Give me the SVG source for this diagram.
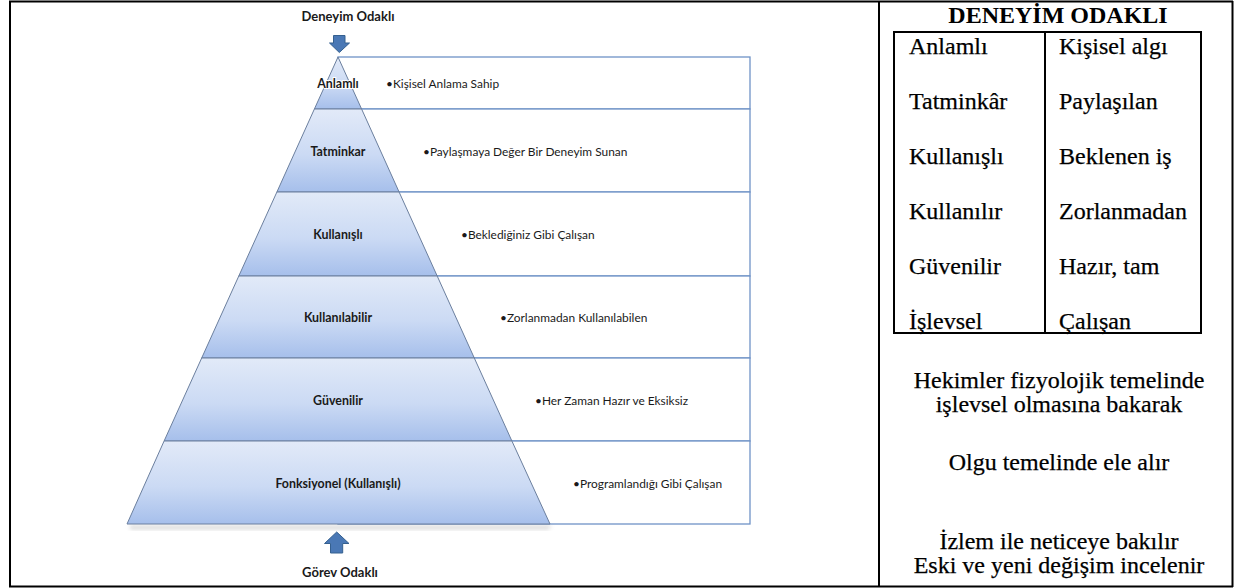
<svg xmlns="http://www.w3.org/2000/svg" width="1234" height="588" viewBox="0 0 1234 588">
<style>
.frame{stroke:#000;stroke-width:2;fill:none}
.box{fill:#fff;stroke:#6f93c7;stroke-width:1.3}
.band{stroke:#6b7f9e;stroke-width:1}
.plab{font-family:Lato,"Open Sans",sans-serif;font-weight:bold;font-size:12.4px;fill:#1a1a1a;text-anchor:middle}
.blt{font-family:Lato,"Open Sans",sans-serif;font-size:11.9px;fill:#1a1a1a}
.cap{font-family:Lato,"Open Sans",sans-serif;font-weight:bold;font-size:13px;fill:#1a1a1a;text-anchor:middle}
.arrow{fill:#4a78b5;stroke:#35608f;stroke-width:1}
.tt{font-family:"Liberation Serif","Times New Roman",serif;font-size:24px;fill:#000;stroke:#000;stroke-width:0.25}
.tc{font-family:"Liberation Serif","Times New Roman",serif;font-size:24px;fill:#000;text-anchor:middle;stroke:#000;stroke-width:0.25}
.th{font-family:"Liberation Serif","Times New Roman",serif;font-weight:bold;font-size:24px;fill:#000;text-anchor:middle}
</style>
<defs>
<linearGradient id="g" x1="0" y1="0" x2="0" y2="1">
<stop offset="0" stop-color="#e2eaf8"/>
<stop offset="0.55" stop-color="#cbdaf4"/>
<stop offset="1" stop-color="#a6bfeb"/>
</linearGradient>
<filter id="sh" x="-10%" y="-50%" width="120%" height="200%">
<feGaussianBlur stdDeviation="2"/>
</filter>
</defs>
<rect width="1234" height="588" fill="#fff"/>

<g id="frame">
<line class="frame" x1="9" y1="1.5" x2="1233" y2="1.5"/>
<line class="frame" x1="10" y1="1" x2="10" y2="587"/>
<line class="frame" x1="9" y1="586.5" x2="1233" y2="586.5"/>
<line class="frame" x1="1232.5" y1="1" x2="1232.5" y2="587"/>
<line class="frame" x1="879" y1="1" x2="879" y2="587"/>
</g>

<g id="boxes">
<rect class="box" x="338" y="57" width="412" height="52"/>
<rect class="box" x="338" y="109" width="412" height="83"/>
<rect class="box" x="338" y="192" width="412" height="84"/>
<rect class="box" x="338" y="276" width="412" height="82"/>
<rect class="box" x="338" y="358" width="412" height="83"/>
<rect class="box" x="338" y="441" width="412" height="83"/>
</g>

<g id="pyramid">
<polygon points="129,526 552,526 548,529 131,529" fill="#9a9a9a" opacity="0.5" filter="url(#sh)"/>
<g id="band-anlamli">
<polygon class="band" points="338,57 361.6,109 314.4,109" fill="url(#g)"/>
<text class="plab" x="338" y="87.5" stroke="#fff" stroke-width="2" paint-order="stroke">Anlamlı</text>
</g>
<g id="band-tatminkar">
<polygon class="band" points="314.4,109 361.6,109 399.1,192 276.9,192" fill="url(#g)"/>
<text class="plab" x="338" y="155.5">Tatminkar</text>
</g>
<g id="band-kullanisli">
<polygon class="band" points="276.9,192 399.1,192 437.2,276 238.8,276" fill="url(#g)"/>
<text class="plab" x="338" y="238.5">Kullanışlı</text>
</g>
<g id="band-kullanilabilir">
<polygon class="band" points="238.8,276 437.2,276 474.3,358 201.7,358" fill="url(#g)"/>
<text class="plab" x="338" y="321.5">Kullanılabilir</text>
</g>
<g id="band-guvenilir">
<polygon class="band" points="201.7,358 474.3,358 511.9,441 164.1,441" fill="url(#g)"/>
<text class="plab" x="338" y="404.5">Güvenilir</text>
</g>
<g id="band-fonksiyonel">
<polygon class="band" points="164.1,441 511.9,441 550,524 127,524" fill="url(#g)"/>
<text class="plab" x="338" y="487.5">Fonksiyonel (Kullanışlı)</text>
</g>
</g>

<g id="bullets">
<text class="blt" x="386" y="87.5">•Kişisel Anlama Sahip</text>
<text class="blt" x="423" y="155.5">•Paylaşmaya Değer Bir Deneyim Sunan</text>
<text class="blt" x="461" y="238.5">•Beklediğiniz Gibi Çalışan</text>
<text class="blt" x="500" y="321.5">•Zorlanmadan Kullanılabilen</text>
<text class="blt" x="535" y="404.5">•Her Zaman Hazır ve Eksiksiz</text>
<text class="blt" x="573" y="487.5">•Programlandığı Gibi Çalışan</text>
</g>

<g id="top-arrow">
<text class="cap" x="348" y="21">Deneyim Odaklı</text>
<polygon class="arrow" points="333.5,35.5 345,35.5 345,43 349.5,43 339.3,52.5 329.5,43 333.5,43"/>
</g>
<g id="bottom-arrow">
<polygon class="arrow" points="336.7,532 349,543.5 342.7,543.5 342.7,553 330.5,553 330.5,543.5 324.5,543.5"/>
<text class="cap" x="340" y="577">Görev Odaklı</text>
</g>

<g id="table">
<text class="th" x="1058" y="23">DENEYİM ODAKLI</text>
<rect x="894" y="32" width="307" height="301" fill="none" stroke="#000" stroke-width="2"/>
<line x1="1045" y1="32" x2="1045" y2="333" stroke="#000" stroke-width="2"/>
<text class="tt" x="909" y="54">Anlamlı</text>
<text class="tt" x="909" y="109">Tatminkâr</text>
<text class="tt" x="909" y="164">Kullanışlı</text>
<text class="tt" x="909" y="219">Kullanılır</text>
<text class="tt" x="909" y="274">Güvenilir</text>
<text class="tt" x="909" y="329">İşlevsel</text>
<text class="tt" x="1059" y="54">Kişisel algı</text>
<text class="tt" x="1059" y="109">Paylaşılan</text>
<text class="tt" x="1059" y="164">Beklenen iş</text>
<text class="tt" x="1059" y="219">Zorlanmadan</text>
<text class="tt" x="1059" y="274">Hazır, tam</text>
<text class="tt" x="1059" y="329">Çalışan</text>
</g>

<g id="notes">
<text class="tc" x="1059" y="388">Hekimler fizyolojik temelinde</text>
<text class="tc" x="1059" y="412">işlevsel olmasına bakarak</text>
<text class="tc" x="1059" y="470">Olgu temelinde ele alır</text>
<text class="tc" x="1059" y="549">İzlem ile neticeye bakılır</text>
<text class="tc" x="1059" y="573">Eski ve yeni değişim incelenir</text>
</g>
</svg>
